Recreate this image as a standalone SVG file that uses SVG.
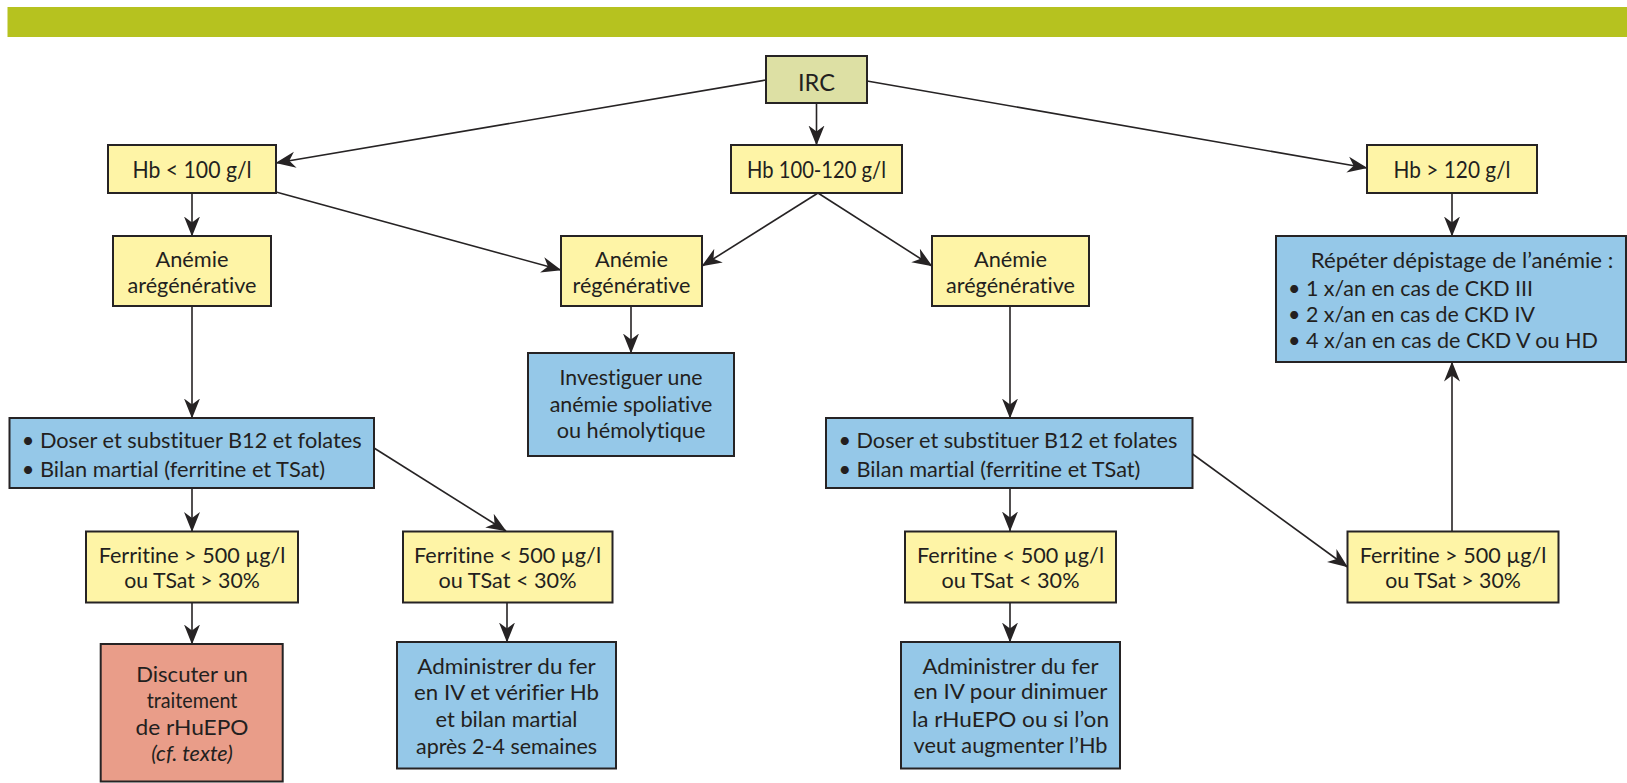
<svg xmlns="http://www.w3.org/2000/svg" width="1627" height="783" viewBox="0 0 1627 783">
<style>
.box{stroke:#262324;stroke-width:2}
.y{fill:#fef4a6}
.b{fill:#95c8e8}
.r{fill:#e99d89}
.g{fill:#dde0a4}
text{font-family:Lato,"Open Sans","Liberation Sans",sans-serif;fill:#231f20;font-size:22px;font-variant-ligatures:none;font-feature-settings:"liga" 0}
.big{font-size:24px}
.c{text-anchor:middle}
.it{font-style:italic}
.con line{stroke:#262324;stroke-width:1.6;marker-end:url(#ah)}
</style>
<defs>
<marker id="ah" markerUnits="userSpaceOnUse" markerWidth="22" markerHeight="18" refX="19.5" refY="8" orient="auto" viewBox="0 0 22 16">
<path d="M0,0 L20,8 L0,16 L6,8 Z" fill="#262324"/>
</marker>
</defs>
<rect x="0" y="0" width="1627" height="783" fill="#ffffff"/>
<rect id="band" x="7.5" y="7" width="1620" height="30" fill="#b6c21f"/>

<g class="con">
<line x1="766" y1="80" x2="276" y2="163"/>
<line x1="816.5" y1="103.5" x2="816.5" y2="145"/>
<line x1="867" y1="81" x2="1367" y2="168"/>
<line x1="192" y1="193" x2="192" y2="236"/>
<line x1="276" y1="192" x2="561" y2="270"/>
<line x1="818" y1="193" x2="702" y2="266"/>
<line x1="818" y1="193" x2="932" y2="266"/>
<line x1="1452" y1="193" x2="1452" y2="236"/>
<line x1="192" y1="306" x2="192" y2="418"/>
<line x1="631" y1="306" x2="631" y2="353"/>
<line x1="1010" y1="306" x2="1010" y2="418"/>
<line x1="192" y1="488" x2="192" y2="531.5"/>
<line x1="374" y1="448" x2="506" y2="531"/>
<line x1="192" y1="602.5" x2="192" y2="644"/>
<line x1="507" y1="602.5" x2="507" y2="642"/>
<line x1="1010" y1="488" x2="1010" y2="531"/>
<line x1="1192.5" y1="454" x2="1347.5" y2="567"/>
<line x1="1010" y1="602.5" x2="1010" y2="642"/>
<line x1="1452" y1="531" x2="1452" y2="362"/>
</g>

<g id="irc">
<rect class="box g" x="766" y="56" width="101" height="47"/>
<text class="big c" x="816.5" y="90.5" textLength="37" lengthAdjust="spacingAndGlyphs">IRC</text>
</g>
<g id="hb-low">
<rect class="box y" x="108" y="145" width="168" height="48"/>
<text class="big c" x="192" y="177.5" textLength="119" lengthAdjust="spacingAndGlyphs">Hb &lt; 100 g/l</text>
</g>
<g id="hb-mid">
<rect class="box y" x="731" y="145" width="171" height="48"/>
<text class="big c" x="816.5" y="177.5" textLength="139" lengthAdjust="spacingAndGlyphs">Hb 100-120 g/l</text>
</g>
<g id="hb-high">
<rect class="box y" x="1367" y="145" width="170" height="48"/>
<text class="big c" x="1452" y="177.5" textLength="117" lengthAdjust="spacingAndGlyphs">Hb &gt; 120 g/l</text>
</g>
<g id="areg-left">
<rect class="box y" x="113" y="236" width="158" height="70"/>
<text class="c" x="192" y="266.5" textLength="73" lengthAdjust="spacingAndGlyphs">Anémie</text>
<text class="c" x="192" y="293.3" textLength="129" lengthAdjust="spacingAndGlyphs">arégénérative</text>
</g>
<g id="reg">
<rect class="box y" x="561" y="236" width="141" height="70"/>
<text class="c" x="631.5" y="266.5" textLength="73" lengthAdjust="spacingAndGlyphs">Anémie</text>
<text class="c" x="631.5" y="293.3" textLength="118" lengthAdjust="spacingAndGlyphs">régénérative</text>
</g>
<g id="areg-right">
<rect class="box y" x="932" y="236" width="157" height="70"/>
<text class="c" x="1010.5" y="266.5" textLength="73" lengthAdjust="spacingAndGlyphs">Anémie</text>
<text class="c" x="1010.5" y="293.3" textLength="129" lengthAdjust="spacingAndGlyphs">arégénérative</text>
</g>
<g id="repeter">
<rect class="box b" x="1276" y="236" width="350" height="126"/>
<text x="1310.7" y="268.3" textLength="302.6" lengthAdjust="spacingAndGlyphs">Répéter dépistage de l’anémie :</text>
<text x="1288" y="296" textLength="245" lengthAdjust="spacingAndGlyphs">• 1 x/an en cas de CKD III</text>
<text x="1288" y="322" textLength="247" lengthAdjust="spacingAndGlyphs">• 2 x/an en cas de CKD IV</text>
<text x="1288" y="348.3" textLength="310" lengthAdjust="spacingAndGlyphs">• 4 x/an en cas de CKD V ou HD</text>
</g>
<g id="investiguer">
<rect class="box b" x="528" y="353" width="206" height="103"/>
<text class="c" x="631" y="385" textLength="143" lengthAdjust="spacingAndGlyphs">Investiguer une</text>
<text class="c" x="631" y="411.7" textLength="162.7" lengthAdjust="spacingAndGlyphs">anémie spoliative</text>
<text class="c" x="631" y="438.3" textLength="148.7" lengthAdjust="spacingAndGlyphs">ou hémolytique</text>
</g>
<g id="doser-left">
<rect class="box b" x="9.5" y="418" width="364.5" height="70"/>
<text x="21.7" y="448.3" textLength="340" lengthAdjust="spacingAndGlyphs">• Doser et substituer B12 et folates</text>
<text x="21.7" y="477.3" textLength="303.3" lengthAdjust="spacingAndGlyphs">• Bilan martial (ferritine et TSat)</text>
</g>
<g id="doser-right">
<rect class="box b" x="826" y="418" width="366.5" height="70"/>
<text x="838.4" y="448.3" textLength="339" lengthAdjust="spacingAndGlyphs">• Doser et substituer B12 et folates</text>
<text x="838.4" y="477.3" textLength="302" lengthAdjust="spacingAndGlyphs">• Bilan martial (ferritine et TSat)</text>
</g>
<g id="ferr-high-left">
<rect class="box y" x="86" y="531.5" width="212" height="71"/>
<text class="c" x="192" y="563.3" textLength="186.7" lengthAdjust="spacingAndGlyphs">Ferritine &gt; 500 µg/l</text>
<text class="c" x="192" y="588.3" textLength="135.7" lengthAdjust="spacingAndGlyphs">ou TSat &gt; 30%</text>
</g>
<g id="ferr-low-left">
<rect class="box y" x="403" y="531.5" width="209.5" height="71"/>
<text class="c" x="507.5" y="563.3" textLength="187" lengthAdjust="spacingAndGlyphs">Ferritine &lt; 500 µg/l</text>
<text class="c" x="507.5" y="588.3" textLength="138" lengthAdjust="spacingAndGlyphs">ou TSat &lt; 30%</text>
</g>
<g id="ferr-low-right">
<rect class="box y" x="905" y="531.5" width="211" height="71"/>
<text class="c" x="1010.5" y="563.3" textLength="187" lengthAdjust="spacingAndGlyphs">Ferritine &lt; 500 µg/l</text>
<text class="c" x="1010.5" y="588.3" textLength="138" lengthAdjust="spacingAndGlyphs">ou TSat &lt; 30%</text>
</g>
<g id="ferr-high-right">
<rect class="box y" x="1347.5" y="531.5" width="211" height="71"/>
<text class="c" x="1453" y="563.3" textLength="186.7" lengthAdjust="spacingAndGlyphs">Ferritine &gt; 500 µg/l</text>
<text class="c" x="1453" y="588.3" textLength="135.7" lengthAdjust="spacingAndGlyphs">ou TSat &gt; 30%</text>
</g>
<g id="discuter">
<rect class="box r" x="100.7" y="644" width="182" height="137.5"/>
<text class="c" x="192" y="681.7" textLength="111.7" lengthAdjust="spacingAndGlyphs">Discuter un</text>
<text class="c" x="192" y="708.3" textLength="90.7" lengthAdjust="spacingAndGlyphs">traitement</text>
<text class="c" x="192" y="735" textLength="113" lengthAdjust="spacingAndGlyphs">de rHuEPO</text>
<text class="c it" x="192" y="760.7" textLength="81.7" lengthAdjust="spacingAndGlyphs">(cf. texte)</text>
</g>
<g id="administrer-left">
<rect class="box b" x="397" y="642" width="219" height="126.5"/>
<text class="c" x="506.5" y="673.5" textLength="178.6" lengthAdjust="spacingAndGlyphs">Administrer du fer</text>
<text class="c" x="506.5" y="700" textLength="185" lengthAdjust="spacingAndGlyphs">en IV et vérifier Hb</text>
<text class="c" x="506.5" y="727" textLength="142" lengthAdjust="spacingAndGlyphs">et bilan martial</text>
<text class="c" x="506.5" y="754" textLength="181" lengthAdjust="spacingAndGlyphs">après 2-4 semaines</text>
</g>
<g id="administrer-right">
<rect class="box b" x="901" y="642" width="219" height="126.5"/>
<text class="c" x="1010.5" y="673.5" textLength="176" lengthAdjust="spacingAndGlyphs">Administrer du fer</text>
<text class="c" x="1010.5" y="699" textLength="194" lengthAdjust="spacingAndGlyphs">en IV pour dinimuer</text>
<text class="c" x="1010.5" y="726.5" textLength="197" lengthAdjust="spacingAndGlyphs">la rHuEPO ou si l’on</text>
<text class="c" x="1010.5" y="753.3" textLength="194" lengthAdjust="spacingAndGlyphs">veut augmenter l’Hb</text>
</g>
</svg>
